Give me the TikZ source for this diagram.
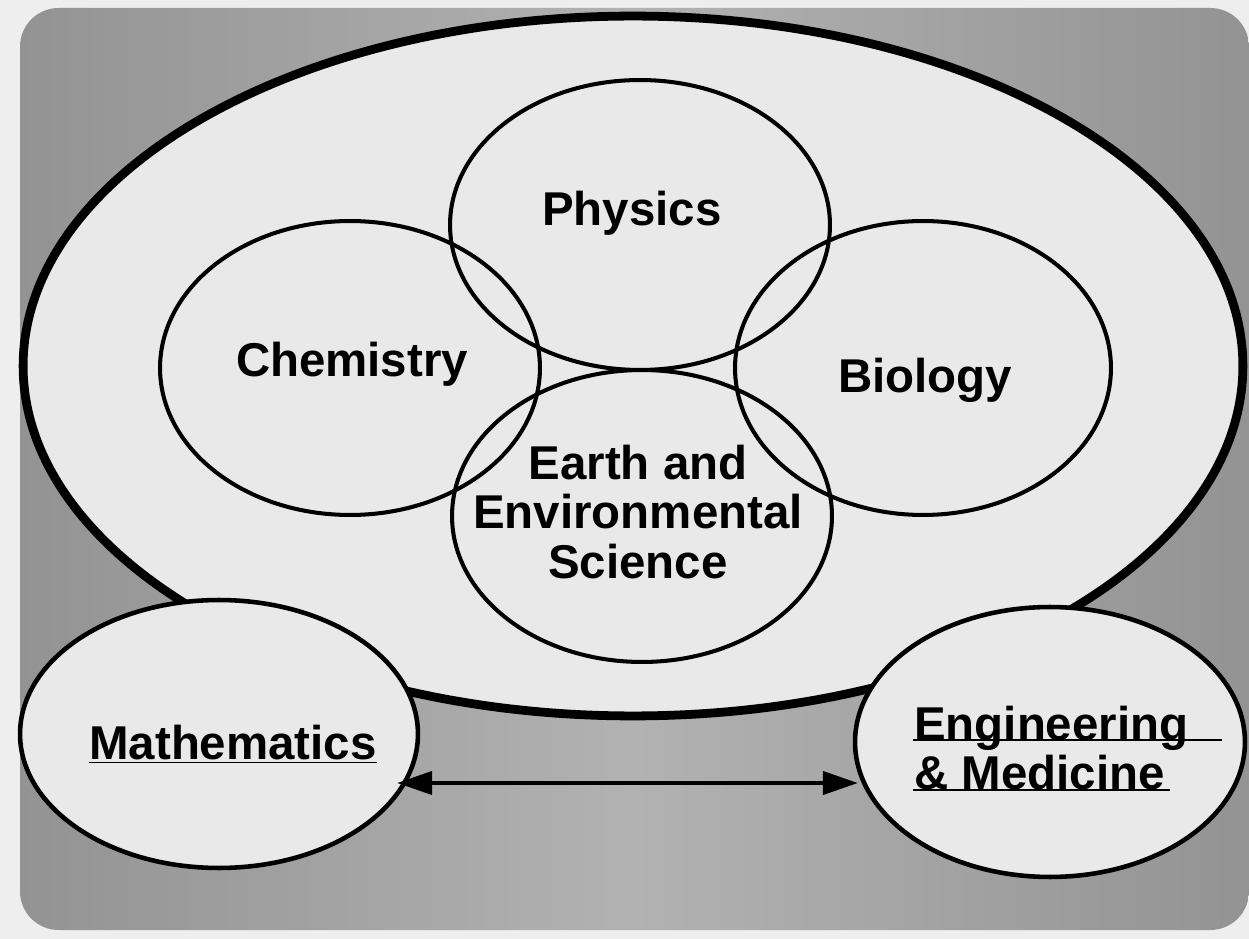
\documentclass[tikz,border=0pt]{standalone}
\usepackage{fontspec}
\setmainfont{Liberation Sans}
\usetikzlibrary{arrows.meta,shapes.geometric}
\definecolor{pagebg}{HTML}{EEEEEE}
\definecolor{panel}{HTML}{939393}
\definecolor{panellight}{HTML}{B2B2B2}
\definecolor{inner}{HTML}{E9E9E9}
\tikzset{
  oval/.style={ellipse, inner sep=0pt, outer sep=0pt},
  subject/.style={oval, draw=black, line width=2.3pt},
  bigoval/.style={oval, draw=black, line width=5pt, fill=inner},
  sideoval/.style={oval, draw=black, line width=2.6pt, fill=inner},
  lbl/.style={font=\fontsize{27}{28}\selectfont\bfseries, align=center},
  link/.style={line width=2.6pt, {Triangle[length=20pt,width=13pt]}-{Triangle[length=20pt,width=13pt]}}
}
\begin{document}
\begin{tikzpicture}[x=0.02cm,y=-0.02cm]
\useasboundingbox (0,0) rectangle (1249,939);
\fill[pagebg] (0,0) rectangle (1249,939);
\shade[left color=panel, right color=panel, middle color=panellight, rounded corners=22pt] (20,8) rectangle (1249,930);
\node[bigoval, minimum width=24.4cm, minimum height=14cm] (science) at (633,366) {};
\node[subject, minimum width=7.6cm, minimum height=5.8cm] (physC) at (640,225) {};
\node[subject, minimum width=7.6cm, minimum height=5.88cm] (chemC) at (350,368) {};
\node[subject, minimum width=7.52cm, minimum height=5.88cm] (bioC) at (923,368) {};
\node[subject, minimum width=7.6cm, minimum height=5.84cm] (earthC) at (642,516) {};
\node[lbl] (phys) at (632,213) {Physics};
\node[lbl] (chem) at (352,364) {Chemistry};
\node[lbl] (bio) at (925,380) {Biology};
\node[lbl] (earth) at (638,512) {Earth and\\Environmental\\Science};
\node[sideoval, minimum width=7.96cm, minimum height=5.36cm] (mathC) at (219,734) {};
\node[sideoval, minimum width=7.8cm, minimum height=5.4cm] (engC) at (1050,742) {};
\node[lbl] (math) at (233,744) {\underline{Mathematics}};
\node[lbl, align=left, anchor=west] (eng) at (908,748) {Engineering\\\& Medicine};
\draw[line width=1.6pt] (913,740) -- (1222,740);
\draw[line width=1.6pt] (913,790) -- (1170,790);
\coordinate (a) at (397,783);
\coordinate (b) at (858,783);
\draw[link] (a) -- (b);
\end{tikzpicture}
\end{document}
